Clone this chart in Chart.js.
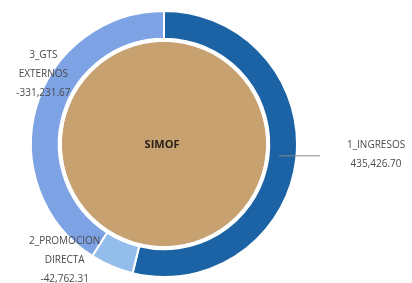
<!DOCTYPE html>
<html>
<head>
<meta charset="utf-8">
<script src="https://cdn.jsdelivr.net/npm/chart.js@4"></script>
<style>
  html, body { margin: 0; padding: 0; background: #fff; }
  #wrap { width: 412px; height: 283px; position: relative; }
</style>
</head>
<body>
<div id="wrap"><canvas id="simofChart"></canvas></div>
<script>
// Datos
const categories = ['1_INGRESOS', '2_PROMOCION DIRECTA', '3_GTS EXTERNOS'];
const amounts = [435426.70, -42762.31, -331231.67];
const segmentColors = ['#1b63a4', '#93bdeb', '#7ea3e4'];
const centerLabel = 'SIMOF';
const centerValue = [1];

function fmt(v) {
    return (v < 0 ? '-' : '') + Math.abs(v).toLocaleString('en-US', { minimumFractionDigits: 2, maximumFractionDigits: 2 });
}

// etiquetas de los segmentos + texto central
const labelPlugin = {
    id: 'segmentLabels',
    afterDraw(chart) {
        const ctx = chart.ctx;
        const arcs = chart.getDatasetMeta(0).data;
        ctx.save();
        ctx.font = '10px "Open Sans", sans-serif';
        ctx.fillStyle = '#4a4a4a';
        ctx.textAlign = 'center';
        ctx.textBaseline = 'middle';

        arcs.forEach(function (arc, i) {
            const p = arc.getProps(['x', 'y', 'startAngle', 'endAngle', 'outerRadius', 'innerRadius'], true);
            const mid = (p.startAngle + p.endAngle) / 2;
            const ax = p.x + Math.cos(mid) * p.outerRadius;
            const ay = p.y + Math.sin(mid) * p.outerRadius;
            const words = categories[i].split(' ');
            let lines, cx, cy;
            if (i === 0) {
                // linea guia a la derecha
                const y0 = ay - 4;
                ctx.strokeStyle = '#8a8a8a';
                ctx.lineWidth = 1;
                ctx.beginPath();
                ctx.moveTo(p.x + p.innerRadius + 10, y0);
                ctx.lineTo(ax + 24, y0);
                ctx.stroke();
                lines = [categories[i], fmt(amounts[i])];
                cx = ax + 80; cy = y0 - 11;
            } else if (i === 1) {
                lines = [words[0], words[1], fmt(amounts[i])];
                cx = ax - 47; cy = ay - 25;
            } else {
                lines = [words[0], words[1], fmt(amounts[i])];
                cx = ax + 7; cy = ay - 51;
            }
            lines.forEach(function (t, k) {
                ctx.fillText(t, cx, cy + k * 19);
            });
        });

        const c = arcs[0].getProps(['x', 'y'], true);
        ctx.font = 'bold 11px "Open Sans", sans-serif';
        ctx.fillStyle = '#2a2018';
        ctx.fillText(centerLabel, c.x - 2, c.y + 1);
        ctx.restore();
    }
};

new Chart(document.getElementById('simofChart'), {
    type: 'doughnut',
    data: {
        labels: categories,
        datasets: [
            {
                data: amounts.map(Math.abs),
                backgroundColor: segmentColors,
                borderColor: '#ffffff',
                borderWidth: 2,
                weight: 28
            },
            {
                // separacion blanca entre anillo y circulo
                data: centerValue,
                backgroundColor: ['#ffffff'],
                borderWidth: 0,
                weight: 3
            },
            {
                data: centerValue,
                backgroundColor: ['#c8a171'],
                borderWidth: 0,
                weight: 103
            }
        ]
    },
    options: {
        responsive: true,
        maintainAspectRatio: false,
        animation: false,
        cutout: 0,
        layout: {
            padding: { left: 30, right: 114, top: 10, bottom: 5 }
        },
        plugins: {
            legend: { display: false },
            tooltip: { enabled: false }
        }
    },
    plugins: [labelPlugin]
});
</script>
</body>
</html>
